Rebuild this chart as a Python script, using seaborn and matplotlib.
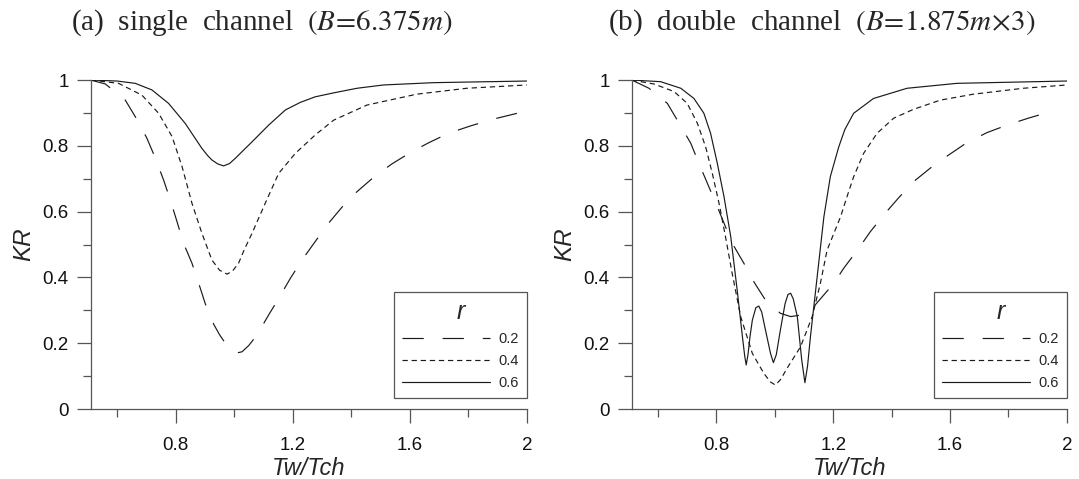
import matplotlib
matplotlib.use("Agg")
import matplotlib.pyplot as plt
from matplotlib.ticker import MultipleLocator, FuncFormatter
from matplotlib.lines import Line2D
import numpy as np
import pandas as pd
import seaborn as sns

# ---- (a) single channel: KR vs Tw/Tch for three r values ----
a_x_02 = [0.51, 0.560, 0.628, 0.668, 0.702, 0.731, 0.759, 0.782, 0.805, 0.827, 0.856,
          0.879, 0.901, 0.930, 0.950, 0.970, 0.985, 0.998, 1.012, 1.027, 1.050, 1.078,
          1.118, 1.152, 1.192, 1.232, 1.277, 1.322, 1.368, 1.419, 1.476, 1.539, 1.601,
          1.664, 1.732, 1.806, 1.880, 2.0]
a_y_02 = [1.0, 0.988, 0.939, 0.880, 0.823, 0.762, 0.696, 0.635, 0.569, 0.504, 0.443,
          0.382, 0.321, 0.258, 0.226, 0.200, 0.183, 0.174, 0.171, 0.174, 0.193, 0.225,
          0.286, 0.336, 0.397, 0.453, 0.509, 0.564, 0.613, 0.660, 0.704, 0.745, 0.779,
          0.809, 0.838, 0.860, 0.880, 0.906]

a_x_04 = [0.51, 0.605, 0.685, 0.742, 0.788, 0.822, 0.856, 0.890, 0.924, 0.950, 0.976,
          0.995, 1.015, 1.035, 1.061, 1.106, 1.152, 1.209, 1.277, 1.340, 1.454, 1.624,
          1.795, 2.0]
a_y_04 = [1.0, 0.990, 0.954, 0.899, 0.828, 0.737, 0.625, 0.534, 0.453, 0.422, 0.410,
          0.420, 0.443, 0.485, 0.534, 0.625, 0.716, 0.777, 0.833, 0.878, 0.924, 0.957,
          0.975, 0.985]

a_x_06 = [0.51, 0.600, 0.662, 0.719, 0.776, 0.833, 0.890, 0.910, 0.924, 0.944, 0.964,
          0.984, 1.004, 1.030, 1.061, 1.118, 1.175, 1.226, 1.277, 1.340, 1.420, 1.510,
          1.681, 2.0]
a_y_06 = [1.0, 0.997, 0.990, 0.970, 0.929, 0.868, 0.792, 0.770, 0.757, 0.745, 0.739,
          0.746, 0.762, 0.785, 0.812, 0.863, 0.909, 0.932, 0.949, 0.961, 0.975, 0.985,
          0.992, 0.997]

# ---- (b) double channel ----
b_x_02 = [0.51, 0.569, 0.632, 0.666, 0.712, 0.740, 0.769, 0.803, 0.831, 0.854, 0.894,
          0.928, 0.968, 1.019, 1.054, 1.094, 1.133, 1.202, 1.236, 1.287, 1.327, 1.378,
          1.424, 1.475, 1.532, 1.595, 1.655, 1.726, 1.795, 1.868, 1.937]
b_y_02 = [1.0, 0.975, 0.929, 0.878, 0.808, 0.747, 0.686, 0.615, 0.554, 0.504, 0.443,
          0.387, 0.331, 0.291, 0.281, 0.286, 0.311, 0.382, 0.428, 0.488, 0.539, 0.595,
          0.642, 0.691, 0.732, 0.772, 0.808, 0.840, 0.863, 0.884, 0.902]

b_x_04 = [0.51, 0.586, 0.655, 0.700, 0.735, 0.763, 0.786, 0.809, 0.831, 0.854, 0.883,
          0.923, 0.962, 0.985, 1.002, 1.020, 1.042, 1.088, 1.128, 1.156, 1.179, 1.225,
          1.247, 1.270, 1.304, 1.350, 1.407, 1.475, 1.567, 1.680, 1.851, 2.0]
b_y_04 = [1.0, 0.988, 0.965, 0.929, 0.868, 0.797, 0.716, 0.625, 0.524, 0.412, 0.281,
          0.169, 0.109, 0.082, 0.073, 0.090, 0.124, 0.189, 0.281, 0.382, 0.483, 0.584,
          0.645, 0.706, 0.777, 0.838, 0.884, 0.911, 0.939, 0.957, 0.975, 0.985]

b_x_06 = [0.51, 0.609, 0.678, 0.723, 0.757, 0.780, 0.803, 0.826, 0.849, 0.871, 0.889,
          0.897, 0.902, 0.908, 0.915, 0.923, 0.935, 0.945, 0.955, 0.968, 0.985, 0.995,
          1.005, 1.019, 1.035, 1.045, 1.054, 1.063, 1.077, 1.092, 1.103, 1.112, 1.122,
          1.145, 1.168, 1.190, 1.219, 1.240, 1.270, 1.338, 1.453, 1.624, 2.0]
b_y_06 = [1.0, 0.995, 0.975, 0.944, 0.899, 0.838, 0.747, 0.645, 0.524, 0.362, 0.220,
          0.160, 0.134, 0.165, 0.220, 0.270, 0.308, 0.313, 0.295, 0.240, 0.170, 0.141,
          0.165, 0.240, 0.320, 0.348, 0.352, 0.335, 0.281, 0.150, 0.080, 0.130, 0.220,
          0.402, 0.584, 0.706, 0.797, 0.850, 0.899, 0.944, 0.975, 0.990, 0.997]

r_levels = ["0.2", "0.4", "0.6"]
panel_titles = [r"(a)  single  channel  $(B\!=\!6.375m)$",
                r"(b)  double  channel  $(B\!=\!1.875m\!\times\!3)$"]


def frame(xs, ys):
    parts = []
    for r, x, y in zip(r_levels, xs, ys):
        parts.append(pd.DataFrame({"T": x, "KR": y, "r": r}))
    return pd.concat(parts, ignore_index=True)


df_a = frame([a_x_02, a_x_04, a_x_06], [a_y_02, a_y_04, a_y_06])
df_b = frame([b_x_02, b_x_04, b_x_06], [b_y_02, b_y_04, b_y_06])

sns.set_theme(style="white")
plt.rcParams["font.family"] = ["Liberation Sans", "DejaVu Sans"]
plt.rcParams["mathtext.fontset"] = "stix"

dash_map = {"0.2": (18, 16), "0.4": (4.5, 3.2), "0.6": ""}
line_color = "#1a1a1a"
spine_color = "#555555"

fig = plt.figure(figsize=(10.79, 4.79), dpi=100)
ax_a = fig.add_axes([0.0841, 0.1461, 0.4041, 0.6868])
ax_b = fig.add_axes([0.5855, 0.1461, 0.4032, 0.6868])

for ax, df in [(ax_a, df_a), (ax_b, df_b)]:
    sns.lineplot(data=df, x="T", y="KR", style="r", style_order=r_levels,
                 dashes=dash_map, color=line_color, linewidth=0.85,
                 estimator=None, sort=False, legend=False, ax=ax)
    ax.set_xlim(0.51, 2.0)
    ax.set_ylim(0, 1.0)
    ax.xaxis.set_major_locator(MultipleLocator(0.4))
    ax.xaxis.set_minor_locator(MultipleLocator(0.2))
    ax.yaxis.set_major_locator(MultipleLocator(0.2))
    ax.yaxis.set_minor_locator(MultipleLocator(0.1))
    fmt = FuncFormatter(lambda v, p: f"{v:g}")
    ax.xaxis.set_major_formatter(fmt)
    ax.yaxis.set_major_formatter(fmt)
    for s in ["top", "right"]:
        ax.spines[s].set_visible(False)
    for s in ["left", "bottom"]:
        ax.spines[s].set_color(spine_color)
        ax.spines[s].set_linewidth(0.9)
    ax.tick_params(which="major", direction="out", length=10, width=0.9,
                   color=spine_color, labelsize=13.5, labelcolor="#111111",
                   bottom=True, left=True)
    ax.tick_params(which="minor", direction="out", length=6, width=0.9,
                   color=spine_color, bottom=True, left=True)
    ax.tick_params(axis="x", which="major", pad=10)
    ax.tick_params(axis="y", which="major", pad=6)
    ax.set_xlabel("Tw/Tch", fontsize=17, style="italic", labelpad=2)
    ax.set_ylabel("KR", fontsize=17.5, style="italic", labelpad=5)
    ax.grid(False)

    handles = [Line2D([], [], color=line_color, linewidth=0.85,
                      linestyle=(0, dash_map[r]) if dash_map[r] else "-")
               for r in r_levels]
    leg = ax.legend(handles, r_levels, title="r", loc="lower right",
                    bbox_to_anchor=(1.0, 0.033), borderaxespad=0,
                    fontsize=10.5, handlelength=6.0, handletextpad=0.6,
                    labelspacing=0.55, borderpad=0.55, fancybox=False,
                    framealpha=1, edgecolor="#555555")
    leg.get_title().set_fontsize(18)
    leg.get_title().set_fontstyle("italic")
    leg.get_frame().set_linewidth(0.9)

fig.text(262 / 1079, 1 - 23 / 479, panel_titles[0], fontsize=21,
         family="Liberation Serif", ha="center", va="center")
fig.text(822 / 1079, 1 - 23 / 479, panel_titles[1], fontsize=21,
         family="Liberation Serif", ha="center", va="center")

fig.savefig("out.png", dpi=100)
